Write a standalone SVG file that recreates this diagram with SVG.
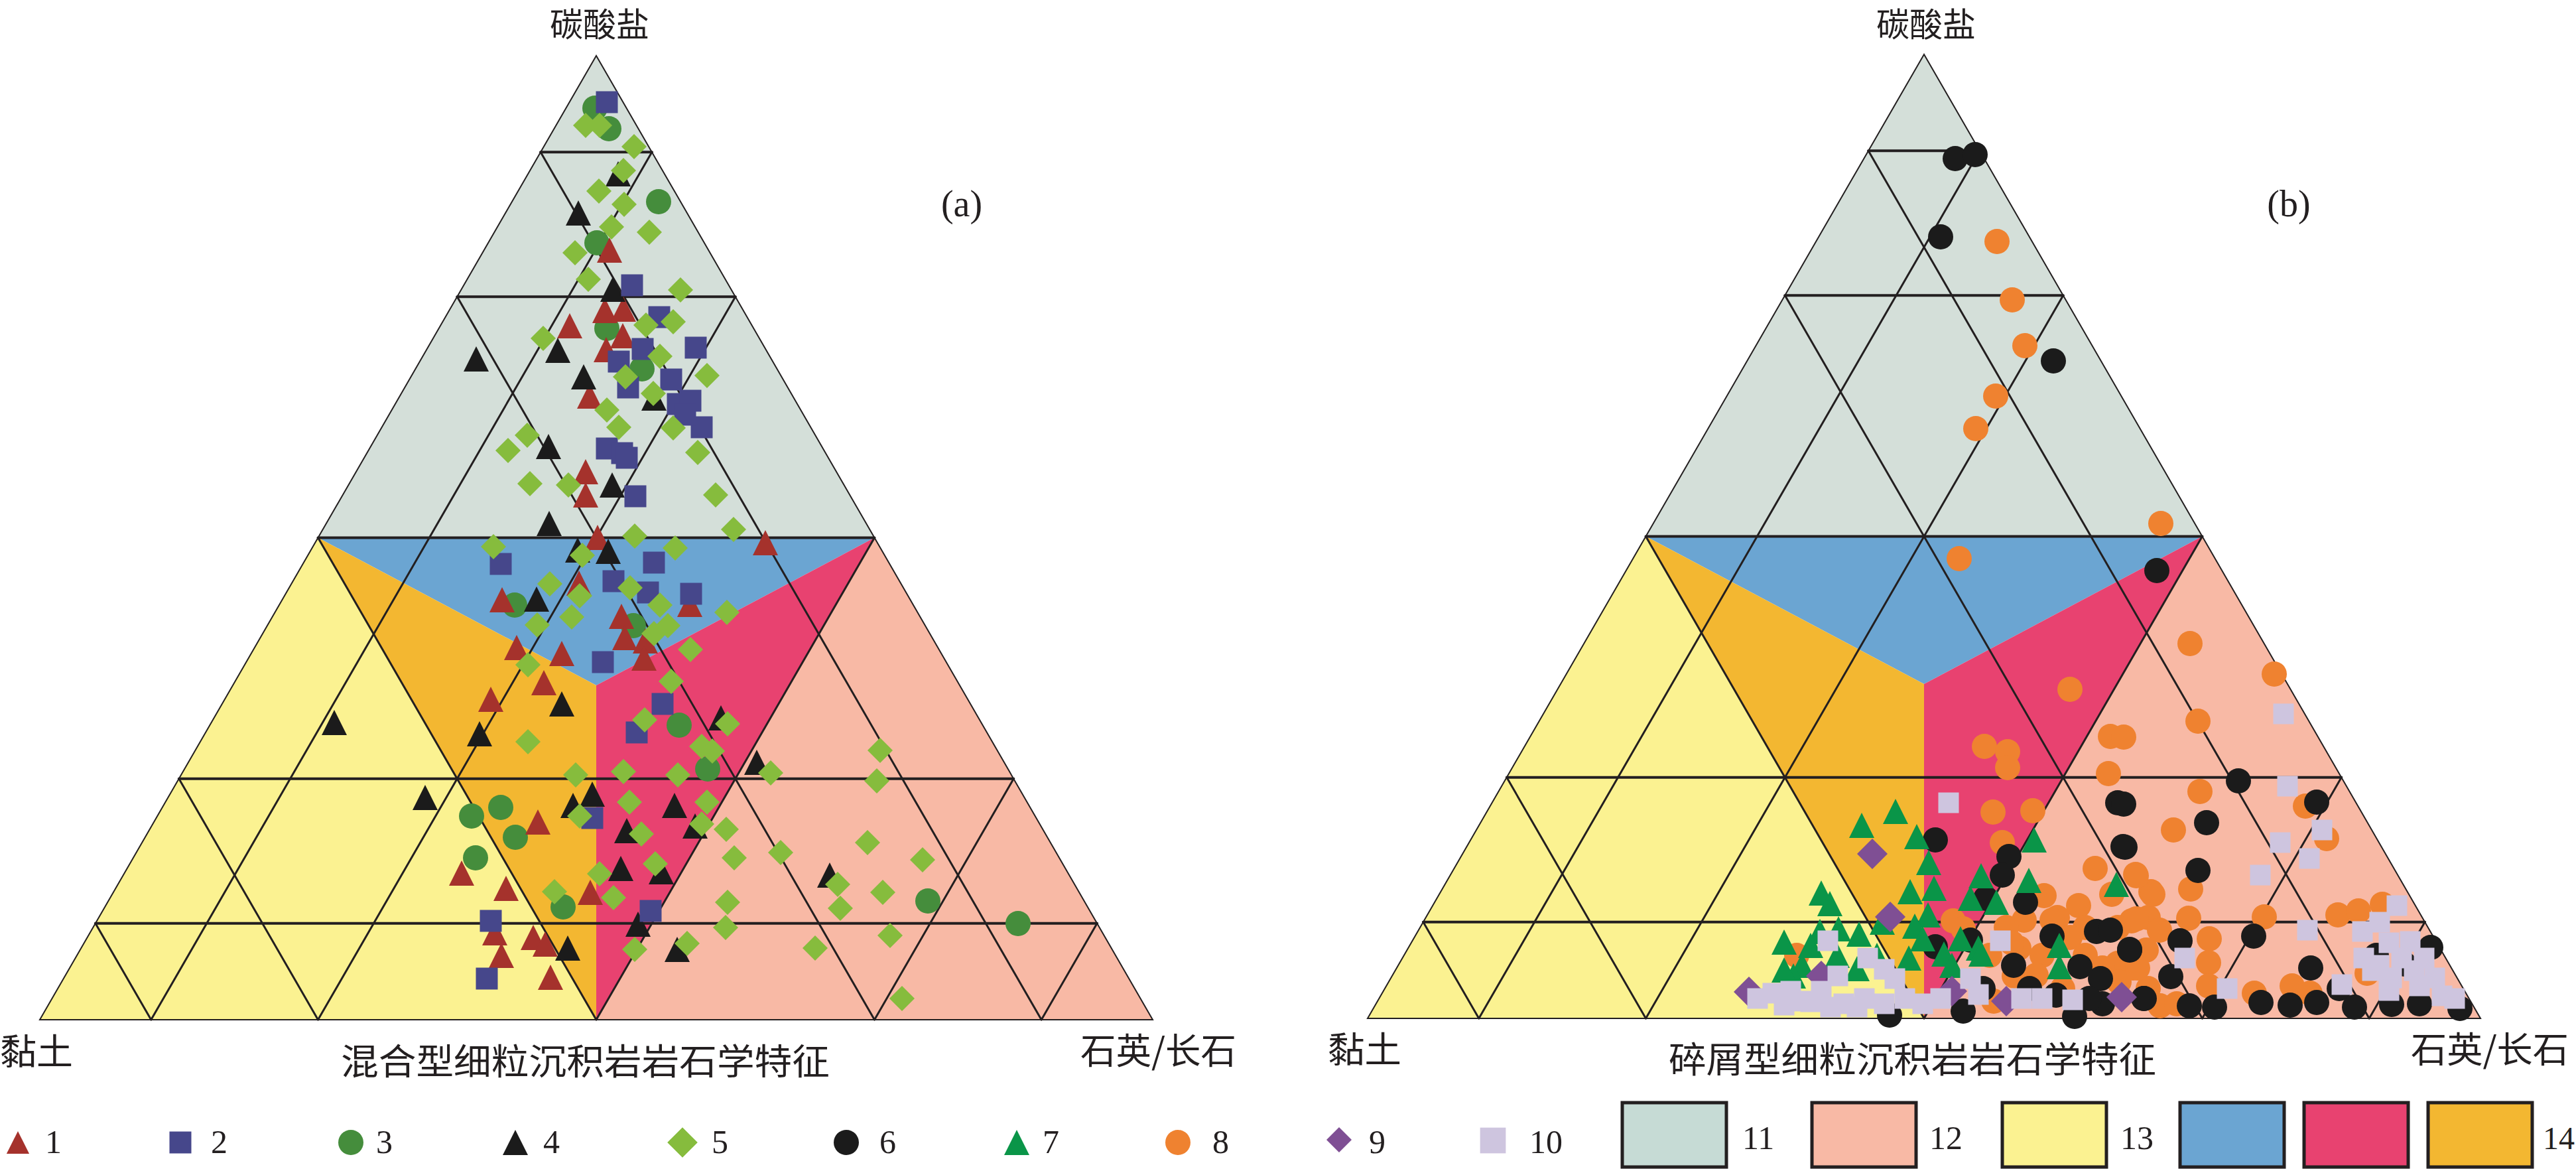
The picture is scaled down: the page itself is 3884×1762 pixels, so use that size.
<svg xmlns="http://www.w3.org/2000/svg" width="3884" height="1762" viewBox="0 0 3884 1762">
<style>
.g{fill:#d4dfd9}.bl{fill:#6ba5d2}.or{fill:#f3b731}.mg{fill:#e84270}.ye{fill:#fbf291}.sa{fill:#f8b9a5}
.ln{stroke:#231f20;fill:none;stroke-linecap:round}.h{stroke-width:4}.s{stroke-width:3}.o{stroke-width:2}
.m1{fill:#a5322c}.m2{fill:#46478b}.m3{fill:#458d3c}.m4{fill:#1b1b1b}.m5{fill:#86bc3d}.m6{fill:#1b1b1b}.m7{fill:#0a9548}.m8{fill:#ef8230}.m9{fill:#7f4f94}.m10{fill:#cec5df}
.t{font-family:"Noto Sans CJK SC","Noto Sans CJK TC",sans-serif;fill:#231f20}
.n{font-family:"Liberation Serif",serif;fill:#231f20}
.box{stroke:#231f20;stroke-width:5}
</style>
<defs>
<path id="tr" d="M0,-19L19,19H-19Z"/>
<rect id="sq" x="-16.5" y="-16.5" width="33" height="33"/>
<circle id="ci" r="19"/>
<path id="dm" d="M0,-19L19,0L0,19L-19,0Z"/>
<path id="dp" d="M0,-23L23,0L0,23L-23,0Z"/>
<rect id="sl" x="-15.5" y="-15.5" width="31" height="31"/>
<g id="frame">
<polygon class="g" points="899,84 1318.5,810.5 479.5,810.5"/>
<polygon class="bl" points="479.5,810.5 1318.5,810.5 899,1033"/>
<polygon class="or" points="479.5,810.5 899,1033 899,1537"/>
<polygon class="mg" points="1318.5,810.5 899,1537 899,1033"/>
<polygon class="ye" points="479.5,810.5 899,1537 60,1537"/>
<polygon class="sa" points="1318.5,810.5 1738,1537 899,1537"/>
<g class="ln s">
<line x1="815.1" y1="229.3" x2="1570.2" y2="1537"/>
<line x1="689.3" y1="447.3" x2="1318.5" y2="1537"/>
<line x1="479.5" y1="810.5" x2="899" y2="1537"/>
<line x1="269.8" y1="1173.8" x2="479.5" y2="1537"/>
<line x1="143.9" y1="1391.7" x2="227.8" y2="1537"/>
<line x1="982.9" y1="229.3" x2="227.8" y2="1537"/>
<line x1="1108.8" y1="447.3" x2="479.5" y2="1537"/>
<line x1="1318.5" y1="810.5" x2="899" y2="1537"/>
<line x1="1528.3" y1="1173.8" x2="1318.5" y2="1537"/>
<line x1="1654.1" y1="1391.7" x2="1570.2" y2="1537"/>
</g>
<g class="ln h">
<line x1="815.1" y1="229.3" x2="982.9" y2="229.3"/>
<line x1="689.3" y1="447.3" x2="1108.8" y2="447.3"/>
<line x1="479.5" y1="810.5" x2="1318.5" y2="810.5"/>
<line x1="269.8" y1="1173.8" x2="1528.3" y2="1173.8"/>
<line x1="143.9" y1="1391.7" x2="1654.1" y2="1391.7"/>
</g>
<polygon class="ln o" points="899,84 1738,1537 60,1537"/>
</g>
</defs>

<g id="diagram-a">
<use href="#frame"/>
<g id="a-s3" class="m3">
<use href="#ci" x="897" y="163"/><use href="#ci" x="918" y="194"/><use href="#ci" x="993" y="304"/><use href="#ci" x="900" y="366"/><use href="#ci" x="915" y="495"/><use href="#ci" x="968" y="556"/><use href="#ci" x="776" y="912"/><use href="#ci" x="955" y="943"/><use href="#ci" x="1024" y="1093"/><use href="#ci" x="1067" y="1159"/><use href="#ci" x="711" y="1230"/><use href="#ci" x="755" y="1217"/><use href="#ci" x="777" y="1262"/><use href="#ci" x="717" y="1293"/><use href="#ci" x="849" y="1367"/><use href="#ci" x="1399" y="1358"/><use href="#ci" x="1535" y="1392"/>
</g>
<g id="a-s1" class="m1">
<use href="#tr" x="919" y="377"/><use href="#tr" x="912" y="468"/><use href="#tr" x="940" y="466"/><use href="#tr" x="859" y="491"/><use href="#tr" x="939" y="506"/><use href="#tr" x="914" y="527"/><use href="#tr" x="889" y="597"/><use href="#tr" x="883" y="711"/><use href="#tr" x="883" y="746"/><use href="#tr" x="901" y="810"/><use href="#tr" x="1154" y="818"/><use href="#tr" x="1040" y="911"/><use href="#tr" x="757" y="904"/><use href="#tr" x="873" y="879"/><use href="#tr" x="937" y="929"/><use href="#tr" x="942" y="961"/><use href="#tr" x="973" y="966"/><use href="#tr" x="779" y="976"/><use href="#tr" x="847" y="985"/><use href="#tr" x="971" y="992"/><use href="#tr" x="820" y="1029"/><use href="#tr" x="740" y="1054"/><use href="#tr" x="811" y="1239"/><use href="#tr" x="696" y="1316"/><use href="#tr" x="763" y="1339"/><use href="#tr" x="890" y="1345"/><use href="#tr" x="746" y="1406"/><use href="#tr" x="804" y="1413"/><use href="#tr" x="822" y="1423"/><use href="#tr" x="756" y="1440"/><use href="#tr" x="830" y="1473"/>
</g>
<g id="a-s4" class="m4">
<use href="#tr" x="932" y="262"/><use href="#tr" x="872" y="321"/><use href="#tr" x="924" y="436"/><use href="#tr" x="841" y="528"/><use href="#tr" x="718" y="541"/><use href="#tr" x="880" y="568"/><use href="#tr" x="986" y="600"/><use href="#tr" x="827" y="673"/><use href="#tr" x="923" y="731"/><use href="#tr" x="828" y="789"/><use href="#tr" x="871" y="829"/><use href="#tr" x="917" y="831"/><use href="#tr" x="809" y="903"/><use href="#tr" x="847" y="1061"/><use href="#tr" x="504" y="1089"/><use href="#tr" x="723" y="1106"/><use href="#tr" x="1087" y="1082"/><use href="#tr" x="1141" y="1149"/><use href="#tr" x="641" y="1202"/><use href="#tr" x="893" y="1197"/><use href="#tr" x="864" y="1214"/><use href="#tr" x="1017" y="1214"/><use href="#tr" x="945" y="1252"/><use href="#tr" x="1048" y="1245"/><use href="#tr" x="936" y="1309"/><use href="#tr" x="997" y="1314"/><use href="#tr" x="962" y="1393"/><use href="#tr" x="856" y="1429"/><use href="#tr" x="1021" y="1431"/><use href="#tr" x="1251" y="1319"/>
</g>
<g id="a-s2" class="m2">
<use href="#sq" x="915" y="154"/><use href="#sq" x="953" y="430"/><use href="#sq" x="994" y="478"/><use href="#sq" x="969" y="526"/><use href="#sq" x="1049" y="524"/><use href="#sq" x="933" y="545"/><use href="#sq" x="1012" y="572"/><use href="#sq" x="947" y="584"/><use href="#sq" x="1022" y="609"/><use href="#sq" x="1041" y="604"/><use href="#sq" x="1058" y="644"/><use href="#sq" x="1033" y="625"/><use href="#sq" x="915" y="676"/><use href="#sq" x="938" y="683"/><use href="#sq" x="945" y="690"/><use href="#sq" x="958" y="748"/><use href="#sq" x="755" y="850"/><use href="#sq" x="925" y="876"/><use href="#sq" x="986" y="848"/><use href="#sq" x="977" y="893"/><use href="#sq" x="1042" y="895"/><use href="#sq" x="909" y="998"/><use href="#sq" x="999" y="1061"/><use href="#sq" x="960" y="1104"/><use href="#sq" x="893" y="1233"/><use href="#sq" x="981" y="1373"/><use href="#sq" x="740" y="1388"/><use href="#sq" x="734" y="1475"/>
</g>
<g id="a-s5" class="m5">
<use href="#dm" x="883" y="189"/><use href="#dm" x="904" y="189"/><use href="#dm" x="956" y="221"/><use href="#dm" x="940" y="257"/><use href="#dm" x="903" y="288"/><use href="#dm" x="941" y="308"/><use href="#dm" x="922" y="342"/><use href="#dm" x="979" y="350"/><use href="#dm" x="867" y="381"/><use href="#dm" x="887" y="421"/><use href="#dm" x="1026" y="437"/><use href="#dm" x="974" y="490"/><use href="#dm" x="1015" y="485"/><use href="#dm" x="819" y="510"/><use href="#dm" x="995" y="537"/><use href="#dm" x="943" y="568"/><use href="#dm" x="1066" y="566"/><use href="#dm" x="985" y="593"/><use href="#dm" x="915" y="618"/><use href="#dm" x="933" y="644"/><use href="#dm" x="1015" y="645"/><use href="#dm" x="795" y="656"/><use href="#dm" x="766" y="679"/><use href="#dm" x="1052" y="682"/><use href="#dm" x="799" y="729"/><use href="#dm" x="857" y="731"/><use href="#dm" x="1079" y="746"/><use href="#dm" x="1106" y="798"/><use href="#dm" x="957" y="808"/><use href="#dm" x="744" y="824"/><use href="#dm" x="878" y="837"/><use href="#dm" x="1018" y="826"/><use href="#dm" x="950" y="886"/><use href="#dm" x="829" y="880"/><use href="#dm" x="874" y="898"/><use href="#dm" x="862" y="930"/><use href="#dm" x="810" y="942"/><use href="#dm" x="995" y="912"/><use href="#dm" x="1096" y="923"/><use href="#dm" x="986" y="955"/><use href="#dm" x="1007" y="943"/><use href="#dm" x="796" y="1002"/><use href="#dm" x="1041" y="979"/><use href="#dm" x="1012" y="1027"/><use href="#dm" x="796" y="1118"/><use href="#dm" x="972" y="1085"/><use href="#dm" x="1097" y="1091"/><use href="#dm" x="1058" y="1125"/><use href="#dm" x="1074" y="1132"/><use href="#dm" x="868" y="1168"/><use href="#dm" x="940" y="1163"/><use href="#dm" x="1022" y="1168"/><use href="#dm" x="874" y="1230"/><use href="#dm" x="949" y="1209"/><use href="#dm" x="1066" y="1209"/><use href="#dm" x="967" y="1257"/><use href="#dm" x="1058" y="1242"/><use href="#dm" x="1095" y="1250"/><use href="#dm" x="1107" y="1293"/><use href="#dm" x="904" y="1317"/><use href="#dm" x="988" y="1302"/><use href="#dm" x="836" y="1344"/><use href="#dm" x="925" y="1353"/><use href="#dm" x="1097" y="1360"/><use href="#dm" x="1094" y="1398"/><use href="#dm" x="957" y="1431"/><use href="#dm" x="1036" y="1422"/><use href="#dm" x="1162" y="1165"/><use href="#dm" x="1327" y="1131"/><use href="#dm" x="1322" y="1177"/><use href="#dm" x="1177" y="1285"/><use href="#dm" x="1308" y="1270"/><use href="#dm" x="1391" y="1296"/><use href="#dm" x="1263" y="1333"/><use href="#dm" x="1331" y="1345"/><use href="#dm" x="1267" y="1369"/><use href="#dm" x="1342" y="1410"/><use href="#dm" x="1229" y="1429"/><use href="#dm" x="1360" y="1505"/>
</g>
<text class="t" x="904" y="55" font-size="50" text-anchor="middle">碳酸盐</text>
<text class="n" x="1450" y="326" font-size="56" text-anchor="middle">(a)</text>
<text class="t" x="0" y="1605" font-size="54" textLength="110" lengthAdjust="spacingAndGlyphs">黏土</text>
<text class="t" x="514" y="1620" font-size="54" textLength="737" lengthAdjust="spacingAndGlyphs">混合型细粒沉积岩岩石学特征</text>
<text class="t" x="1629" y="1604" font-size="54" textLength="235" lengthAdjust="spacingAndGlyphs">石英/长石</text>
</g>

<g id="diagram-b">
<use href="#frame" x="2002" y="-2"/>
<g id="b-s8" class="m8">
<use href="#ci" x="3011" y="364"/><use href="#ci" x="3034" y="452"/><use href="#ci" x="3053" y="521"/><use href="#ci" x="3009" y="597"/><use href="#ci" x="2979" y="646"/><use href="#ci" x="3258" y="789"/><use href="#ci" x="2954" y="842"/>
<use href="#ci" x="3121" y="1039"/><use href="#ci" x="3182" y="1110"/><use href="#ci" x="2992" y="1125"/><use href="#ci" x="3027" y="1133"/><use href="#ci" x="3027" y="1157"/><use href="#ci" x="3179" y="1166"/><use href="#ci" x="3005" y="1224"/><use href="#ci" x="3065" y="1222"/><use href="#ci" x="3019" y="1270"/><use href="#ci" x="3159" y="1309"/><use href="#ci" x="3220" y="1318"/><use href="#ci" x="3082" y="1350"/><use href="#ci" x="3134" y="1365"/><use href="#ci" x="3184" y="1348"/><use href="#ci" x="3243" y="1344"/><use href="#ci" x="2945" y="1388"/><use href="#ci" x="3052" y="1387"/><use href="#ci" x="3102" y="1383"/><use href="#ci" x="3144" y="1398"/><use href="#ci" x="3214" y="1388"/><use href="#ci" x="3044" y="1429"/><use href="#ci" x="2709" y="1440"/><use href="#ci" x="3193" y="1452"/><use href="#ci" x="3239" y="1490"/><use href="#ci" x="3006" y="1509"/><use href="#ci" x="3037" y="1471"/>
<use href="#ci" x="3025" y="1398"/><use href="#ci" x="3033" y="1421"/><use href="#ci" x="3094" y="1387"/><use href="#ci" x="3121" y="1413"/><use href="#ci" x="3079" y="1440"/><use href="#ci" x="3144" y="1440"/><use href="#ci" x="3170" y="1459"/><use href="#ci" x="3216" y="1459"/><use href="#ci" x="3236" y="1432"/><use href="#ci" x="3193" y="1398"/><use href="#ci" x="3239" y="1383"/><use href="#ci" x="2960" y="1400"/><use href="#ci" x="3000" y="1440"/><use href="#ci" x="3070" y="1470"/><use href="#ci" x="3110" y="1490"/><use href="#ci" x="3195" y="1480"/>
<use href="#ci" x="3302" y="970"/><use href="#ci" x="3429" y="1016"/><use href="#ci" x="3314" y="1087"/><use href="#ci" x="3202" y="1111"/><use href="#ci" x="3317" y="1193"/><use href="#ci" x="3476" y="1215"/><use href="#ci" x="3277" y="1251"/><use href="#ci" x="3508" y="1264"/><use href="#ci" x="3221" y="1320"/><use href="#ci" x="3303" y="1340"/><use href="#ci" x="3246" y="1348"/><use href="#ci" x="3414" y="1382"/><use href="#ci" x="3300" y="1384"/><use href="#ci" x="3221" y="1385"/><use href="#ci" x="3525" y="1379"/><use href="#ci" x="3556" y="1373"/><use href="#ci" x="3592" y="1363"/><use href="#ci" x="3256" y="1402"/><use href="#ci" x="3331" y="1415"/><use href="#ci" x="3569" y="1467"/><use href="#ci" x="3223" y="1459"/><use href="#ci" x="3330" y="1451"/><use href="#ci" x="3330" y="1486"/><use href="#ci" x="3456" y="1486"/><use href="#ci" x="3399" y="1497"/><use href="#ci" x="3483" y="1497"/><use href="#ci" x="3257" y="1516"/><use href="#ci" x="3282" y="1513"/>
</g>
<g id="b-s6" class="m6">
<use href="#ci" x="2948" y="239"/><use href="#ci" x="2978" y="233"/><use href="#ci" x="2926" y="357"/><use href="#ci" x="3096" y="544"/><use href="#ci" x="3252" y="860"/>
<use href="#ci" x="3193" y="1210"/><use href="#ci" x="3201" y="1276"/><use href="#ci" x="2918" y="1266"/><use href="#ci" x="3029" y="1291"/><use href="#ci" x="3019" y="1319"/><use href="#ci" x="3054" y="1360"/><use href="#ci" x="2994" y="1354"/><use href="#ci" x="3161" y="1404"/><use href="#ci" x="3182" y="1402"/><use href="#ci" x="3094" y="1411"/><use href="#ci" x="3211" y="1432"/><use href="#ci" x="2918" y="1427"/><use href="#ci" x="2971" y="1417"/><use href="#ci" x="3036" y="1455"/><use href="#ci" x="3136" y="1457"/><use href="#ci" x="3167" y="1475"/><use href="#ci" x="3232" y="1505"/><use href="#ci" x="2849" y="1530"/><use href="#ci" x="2960" y="1524"/><use href="#ci" x="3128" y="1532"/><use href="#ci" x="3170" y="1513"/><use href="#ci" x="3060" y="1490"/><use href="#ci" x="3100" y="1500"/><use href="#ci" x="3150" y="1505"/><use href="#ci" x="2990" y="1490"/>
<use href="#ci" x="3375" y="1177"/><use href="#ci" x="3493" y="1209"/><use href="#ci" x="3202" y="1212"/><use href="#ci" x="3327" y="1240"/><use href="#ci" x="3204" y="1277"/><use href="#ci" x="3314" y="1312"/><use href="#ci" x="3287" y="1418"/><use href="#ci" x="3398" y="1411"/><use href="#ci" x="3665" y="1428"/><use href="#ci" x="3583" y="1440"/><use href="#ci" x="3625" y="1453"/><use href="#ci" x="3211" y="1431"/><use href="#ci" x="3273" y="1472"/><use href="#ci" x="3484" y="1459"/><use href="#ci" x="3527" y="1490"/><use href="#ci" x="3233" y="1505"/><use href="#ci" x="3301" y="1516"/><use href="#ci" x="3339" y="1518"/><use href="#ci" x="3409" y="1511"/><use href="#ci" x="3453" y="1515"/><use href="#ci" x="3493" y="1511"/><use href="#ci" x="3550" y="1518"/><use href="#ci" x="3606" y="1514"/><use href="#ci" x="3648" y="1513"/><use href="#ci" x="3709" y="1520"/>
</g>
<g id="b-s7" class="m7">
<use href="#tr" x="2858" y="1223"/><use href="#tr" x="2807" y="1244"/><use href="#tr" x="2890" y="1261"/><use href="#tr" x="3067" y="1266"/><use href="#tr" x="2908" y="1300"/><use href="#tr" x="3191" y="1333"/><use href="#tr" x="2987" y="1320"/><use href="#tr" x="3059" y="1327"/><use href="#tr" x="2880" y="1344"/><use href="#tr" x="2916" y="1339"/><use href="#tr" x="3010" y="1360"/><use href="#tr" x="2971" y="1354"/><use href="#tr" x="2746" y="1346"/><use href="#tr" x="2759" y="1362"/><use href="#tr" x="2838" y="1390"/><use href="#tr" x="2907" y="1379"/><use href="#tr" x="2887" y="1396"/><use href="#tr" x="2744" y="1404"/><use href="#tr" x="2772" y="1400"/><use href="#tr" x="2803" y="1408"/><use href="#tr" x="3105" y="1425"/><use href="#tr" x="2956" y="1415"/><use href="#tr" x="2983" y="1429"/><use href="#tr" x="2899" y="1415"/><use href="#tr" x="2717" y="1455"/><use href="#tr" x="2704" y="1471"/><use href="#tr" x="2878" y="1444"/><use href="#tr" x="2931" y="1438"/><use href="#tr" x="2943" y="1455"/><use href="#tr" x="2987" y="1438"/><use href="#tr" x="3105" y="1457"/><use href="#tr" x="2690" y="1420"/><use href="#tr" x="2730" y="1425"/><use href="#tr" x="2690" y="1462"/><use href="#tr" x="2770" y="1440"/><use href="#tr" x="2800" y="1460"/><use href="#tr" x="2830" y="1440"/>
</g>
<g id="b-s9" class="m9">
<use href="#dp" x="2823" y="1287"/><use href="#dp" x="2850" y="1382"/><use href="#dp" x="2746" y="1471"/><use href="#dp" x="3025" y="1509"/><use href="#dp" x="3199" y="1503"/><use href="#dp" x="2943" y="1494"/><use href="#dp" x="2637" y="1495"/>
</g>
<g id="b-s10" class="m10">
<use href="#sl" x="2938" y="1210"/><use href="#sl" x="2756" y="1418"/><use href="#sl" x="3016" y="1418"/><use href="#sl" x="2816" y="1444"/><use href="#sl" x="2841" y="1461"/><use href="#sl" x="2771" y="1471"/><use href="#sl" x="2857" y="1475"/><use href="#sl" x="2673" y="1497"/><use href="#sl" x="2700" y="1494"/><use href="#sl" x="2719" y="1509"/><use href="#sl" x="2746" y="1494"/><use href="#sl" x="2780" y="1513"/><use href="#sl" x="2811" y="1505"/><use href="#sl" x="2841" y="1513"/><use href="#sl" x="2872" y="1505"/><use href="#sl" x="2899" y="1513"/><use href="#sl" x="2926" y="1505"/><use href="#sl" x="2971" y="1475"/><use href="#sl" x="2983" y="1499"/><use href="#sl" x="3048" y="1505"/><use href="#sl" x="3079" y="1505"/><use href="#sl" x="3125" y="1507"/><use href="#sl" x="2650" y="1505"/><use href="#sl" x="2690" y="1515"/><use href="#sl" x="2730" y="1510"/><use href="#sl" x="2760" y="1518"/><use href="#sl" x="2800" y="1518"/>
<use href="#sl" x="3443" y="1076"/><use href="#sl" x="3449" y="1185"/><use href="#sl" x="3501" y="1251"/><use href="#sl" x="3438" y="1270"/><use href="#sl" x="3482" y="1294"/><use href="#sl" x="3408" y="1319"/><use href="#sl" x="3614" y="1365"/><use href="#sl" x="3479" y="1402"/><use href="#sl" x="3294" y="1444"/><use href="#sl" x="3358" y="1490"/><use href="#sl" x="3531" y="1484"/><use href="#sl" x="3562" y="1404"/><use href="#sl" x="3588" y="1390"/><use href="#sl" x="3602" y="1421"/><use href="#sl" x="3634" y="1419"/><use href="#sl" x="3564" y="1444"/><use href="#sl" x="3587" y="1455"/><use href="#sl" x="3621" y="1444"/><use href="#sl" x="3655" y="1444"/><use href="#sl" x="3577" y="1463"/><use href="#sl" x="3606" y="1474"/><use href="#sl" x="3640" y="1463"/><use href="#sl" x="3671" y="1474"/><use href="#sl" x="3602" y="1493"/><use href="#sl" x="3648" y="1486"/><use href="#sl" x="3682" y="1501"/><use href="#sl" x="3701" y="1505"/>
</g>
<text class="t" x="2904" y="55" font-size="50" text-anchor="middle">碳酸盐</text>
<text class="n" x="3451" y="326" font-size="56" text-anchor="middle">(b)</text>
<text class="t" x="2002" y="1602" font-size="54" textLength="111" lengthAdjust="spacingAndGlyphs">黏土</text>
<text class="t" x="2516" y="1617" font-size="54" textLength="735" lengthAdjust="spacingAndGlyphs">碎屑型细粒沉积岩岩石学特征</text>
<text class="t" x="3635" y="1602" font-size="54" textLength="238" lengthAdjust="spacingAndGlyphs">石英/长石</text>
</g>

<g id="legend">
<use href="#tr" x="27" y="1722" class="m1" transform="translate(27,1722) scale(0.9) translate(-27,-1722)"/>
<text class="n" x="68" y="1738" font-size="50">1</text>
<use href="#sq" x="272" y="1722" class="m2"/>
<text class="n" x="318" y="1738" font-size="50">2</text>
<use href="#ci" x="529" y="1722" class="m3"/>
<text class="n" x="567" y="1738" font-size="50">3</text>
<use href="#tr" x="777" y="1722" class="m4"/>
<text class="n" x="819" y="1738" font-size="50">4</text>
<use href="#dm" x="1029" y="1722" class="m5" transform="translate(1029,1722) scale(1.2) translate(-1029,-1722)"/>
<text class="n" x="1073" y="1738" font-size="50">5</text>
<use href="#ci" x="1276" y="1722" class="m6"/>
<text class="n" x="1326" y="1738" font-size="50">6</text>
<use href="#tr" x="1533" y="1722" class="m7"/>
<text class="n" x="1572" y="1738" font-size="50">7</text>
<use href="#ci" x="1776" y="1722" class="m8"/>
<text class="n" x="1828" y="1738" font-size="50">8</text>
<use href="#dm" x="2019" y="1718" class="m9"/>
<text class="n" x="2064" y="1738" font-size="50">9</text>
<use href="#sl" x="2251" y="1719" class="m10" transform="translate(2251,1719) scale(1.25) translate(-2251,-1719)"/>
<text class="n" x="2306" y="1738" font-size="50">10</text>
<rect class="box" x="2446" y="1662" width="157" height="97" fill="#c6dbd5"/>
<text class="n" x="2627" y="1732" font-size="50">11</text>
<rect class="box" x="2732" y="1662" width="157" height="97" fill="#f8b9a5"/>
<text class="n" x="2909" y="1732" font-size="50">12</text>
<rect class="box" x="3019" y="1662" width="157" height="97" fill="#fbf291"/>
<text class="n" x="3197" y="1732" font-size="50">13</text>
<rect class="box" x="3287" y="1662" width="157" height="97" fill="#6ba5d2"/>
<rect class="box" x="3474" y="1662" width="157" height="97" fill="#e84270"/>
<rect class="box" x="3661" y="1662" width="157" height="97" fill="#f3b731"/>
<text class="n" x="3834" y="1732" font-size="48">14</text>
</g>
</svg>
